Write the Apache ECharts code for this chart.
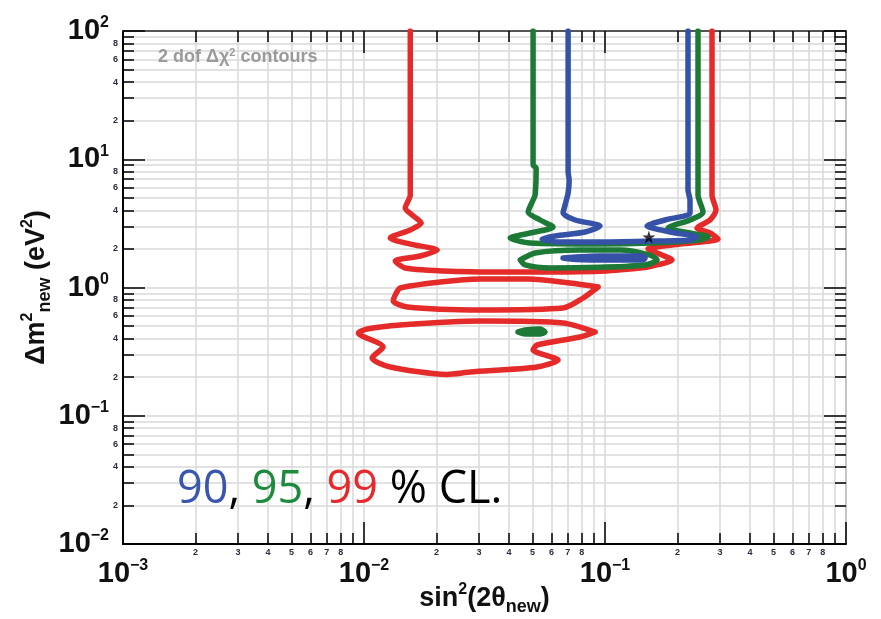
<!DOCTYPE html>
<html>
<head>
<meta charset="utf-8">
<script src="https://cdn.jsdelivr.net/npm/echarts@6/dist/echarts.min.js"></script>
<style>
  html, body { margin: 0; padding: 0; background: #fff; }
  #chart { width: 881px; height: 619px; }
</style>
</head>
<body>
<div id="chart"></div>
<script>
// Exclusion contours in the (sin^2(2θ_new), Δm^2_new) plane, points as [x, y]
const blue90 = [
  [0.0703, 100], [0.0703, 7.95], [0.0710, 6.89], [0.0703, 5.45], [0.0683, 4.40], [0.0670, 3.81],
  [0.0752, 3.36], [0.0954, 3.02], [0.0827, 2.71], [0.0621, 2.52], [0.0548, 2.39], [0.0651, 2.26],
  [0.0954, 2.26], [0.1538, 2.30], [0.2253, 2.35], [0.2408, 2.48], [0.1862, 2.71], [0.1494, 3.02],
  [0.1775, 3.36], [0.2253, 3.81], [0.2253, 4.81], [0.2210, 5.76], [0.2210, 100]
];
const blue90Island = [
  [0.0670, 1.70], [0.0954, 1.76], [0.1439, 1.76], [0.1467, 1.70], [0.1439, 1.64],
  [0.0954, 1.64], [0.0670, 1.67], [0.0670, 1.70]
];
const green95 = [
  [0.0503, 100], [0.0503, 9.02], [0.0518, 8.55], [0.0513, 5.26], [0.0503, 4.81], [0.0480, 3.88],
  [0.0538, 3.36], [0.0609, 2.96], [0.0489, 2.66], [0.0404, 2.43], [0.0489, 2.22], [0.0954, 2.18],
  [0.1538, 2.22], [0.2479, 2.35], [0.2676, 2.48], [0.2253, 2.66], [0.1826, 2.91], [0.2253, 3.36],
  [0.2551, 3.88], [0.2432, 5.26], [0.2432, 100]
];
const green95Island = [
  [0.0445, 1.64], [0.0513, 1.86], [0.0788, 1.96], [0.1155, 1.96], [0.1538, 1.79], [0.1644, 1.64],
  [0.1467, 1.50], [0.0954, 1.44], [0.0592, 1.42], [0.0466, 1.50], [0.0445, 1.64]
];
const green95Spot = [
  [0.0436, 0.450], [0.0466, 0.466], [0.0538, 0.475], [0.0564, 0.450], [0.0538, 0.434],
  [0.0466, 0.434], [0.0436, 0.450]
];
const red99 = [
  [0.01556, 100], [0.01556, 5.26], [0.01483, 4.17], [0.01586, 3.67], [0.01728, 3.18], [0.01556, 2.81],
  [0.01285, 2.43], [0.01556, 2.18], [0.02013, 1.96], [0.01711, 1.76], [0.01348, 1.61], [0.01483, 1.42],
  [0.02279, 1.34], [0.04446, 1.32], [0.0954, 1.34], [0.1398, 1.42], [0.1567, 1.47], [0.1897, 1.64],
  [0.1692, 1.82], [0.1509, 2.00], [0.2048, 2.18], [0.2944, 2.39], [0.2727, 2.66], [0.2408, 2.91],
  [0.2727, 3.36], [0.2888, 4.02], [0.2780, 5.26], [0.2780, 100]
];
const red99IslandMid = [
  [0.0936, 1.009], [0.0717, 1.084], [0.0480, 1.165], [0.0304, 1.165], [0.0207, 1.104], [0.01414, 0.991],
  [0.01348, 0.874], [0.01323, 0.785], [0.01512, 0.705], [0.0304, 0.668], [0.0670, 0.692],
  [0.0811, 0.828], [0.0936, 1.009]
];
const red99IslandLow = [
  [0.0910, 0.450], [0.0788, 0.411], [0.0523, 0.356], [0.0503, 0.326], [0.0639, 0.272], [0.0523, 0.240],
  [0.0276, 0.219], [0.0221, 0.210], [0.01285, 0.240], [0.0108, 0.282], [0.0120, 0.344], [0.00947, 0.442],
  [0.01032, 0.475], [0.01414, 0.510], [0.0304, 0.548], [0.0670, 0.529], [0.0910, 0.450]
];
const bestFit = [[0.152, 2.48]];

// Axis tick values
const xMajor = [0.001, 0.01, 0.1, 1];
const xMinor = [0.002, 0.003, 0.004, 0.005, 0.006, 0.007, 0.008, 0.009,
                0.02, 0.03, 0.04, 0.05, 0.06, 0.07, 0.08, 0.09,
                0.2, 0.3, 0.4, 0.5, 0.6, 0.7, 0.8, 0.9];
const xMinorLabeled = [0.002, 0.003, 0.004, 0.005, 0.006, 0.007, 0.008,
                       0.02, 0.03, 0.04, 0.05, 0.06, 0.07, 0.08,
                       0.2, 0.3, 0.4, 0.5, 0.6, 0.7, 0.8];
const yMajor = [0.01, 0.1, 1, 10, 100];
const yMinor = [0.02, 0.03, 0.04, 0.05, 0.06, 0.07, 0.08, 0.09,
                0.2, 0.3, 0.4, 0.5, 0.6, 0.7, 0.8, 0.9,
                2, 3, 4, 5, 6, 7, 8, 9,
                20, 30, 40, 50, 60, 70, 80, 90];
const yMinorLabeled = [0.02, 0.04, 0.06, 0.08, 0.2, 0.4, 0.6, 0.8, 2, 4, 6, 8, 20, 40, 60, 80];

const BLUE = '#3652a8';
const GREEN = '#1c7a36';
const RED = '#e52a2a';
const FONT = '"Liberation Sans", Arial, sans-serif';
const GRID_COLOR = '#d9d9d9';

function powLabel(v) {
  const e = Math.round(Math.log10(v));
  return '{b|10}{s|' + (e < 0 ? '\u2212' + (-e) : String(e)) + '}';
}
function digitLabel(v) {
  const p = Math.pow(10, Math.floor(Math.log10(v) + 1e-9));
  return String(Math.round(v / p));
}
const powRich = {
  b: { fontFamily: FONT, fontWeight: 'bold', fontSize: 29, color: '#111', lineHeight: 32 },
  s: { fontFamily: FONT, fontWeight: 'bold', fontSize: 16, color: '#111', verticalAlign: 'top', lineHeight: 16 }
};
const minorLabelStyle = { fontFamily: FONT, fontWeight: 'bold', fontSize: 9, color: '#2b2b45' };
const titleRich = {
  t: { fontFamily: FONT, fontWeight: 'bold', fontSize: 27, color: '#111', lineHeight: 34 },
  sp: { fontFamily: FONT, fontWeight: 'bold', fontSize: 16, color: '#111', verticalAlign: 'top', lineHeight: 16 },
  sb: { fontFamily: FONT, fontWeight: 'bold', fontSize: 18, color: '#111', verticalAlign: 'bottom', lineHeight: 18 }
};

function logAxis(pos, isX, major, opts) {
  const range = isX ? { min: 0.001, max: 1 } : { min: 0.01, max: 100 };
  return Object.assign({
    type: 'log', logBase: 10, position: pos, gridIndex: 0,
    min: range.min, max: range.max,
    axisLine: { show: false, onZero: false },
    axisTick: { show: true, inside: true, length: major ? 22 : 11,
                customValues: major ? (isX ? xMajor : yMajor) : (isX ? xMinor : yMinor),
                lineStyle: { color: '#000', width: 1.5 } },
    axisLabel: { show: false },
    splitLine: { show: false },
    axisPointer: { show: false }
  }, opts || {});
}

const chart = echarts.init(document.getElementById('chart'), null, { renderer: 'canvas' });

function contour(data, color, z) {
  return {
    type: 'line', data: data, xAxisIndex: 0, yAxisIndex: 0,
    symbol: 'none', showSymbol: false, smooth: 0.25, silent: true, z: z,
    lineStyle: { color: color, width: 5.5, cap: 'round', join: 'round' }
  };
}

chart.setOption({
  animation: false,
  backgroundColor: '#fff',
  grid: { left: 123, right: 35, top: 31, bottom: 75, containLabel: false, outerBoundsMode: 'none' },
  xAxis: [
    logAxis('bottom', true, true, {
      axisLine: { show: true, onZero: false, lineStyle: { color: '#000', width: 2 } },
      axisLabel: { show: true, customValues: xMajor, formatter: powLabel, rich: powRich, margin: 14, interval: 0 },
      splitLine: { show: true, lineStyle: { color: GRID_COLOR, width: 1.5 } },
      name: '{t|sin}{sp|2}{t|(2θ}{sb|new}{t|)}',
      nameLocation: 'middle', nameGap: 38, nameMoveOverlap: false,
      nameTextStyle: { rich: titleRich }
    }),
    logAxis('bottom', true, false, {
      axisLabel: Object.assign({ show: true, customValues: xMinorLabeled, formatter: digitLabel, margin: 4, interval: 0 }, minorLabelStyle),
      splitLine: { show: true, lineStyle: { color: GRID_COLOR, width: 1.5 } }
    }),
    logAxis('top', true, true, {
      axisLine: { show: true, onZero: false, lineStyle: { color: '#555', width: 2 } }
    }),
    logAxis('top', true, false)
  ],
  yAxis: [
    logAxis('left', false, true, {
      axisLine: { show: true, onZero: false, lineStyle: { color: '#000', width: 2 } },
      axisLabel: { show: true, customValues: yMajor, formatter: powLabel, rich: powRich, margin: 14, interval: 0 },
      splitLine: { show: true, lineStyle: { color: GRID_COLOR, width: 1.5 } },
      name: '{t|Δm}{sp|2}{sb|new}{t| (eV}{sp|2}{t|)}',
      nameLocation: 'middle', nameGap: 69, nameRotate: 90, nameMoveOverlap: false,
      nameTextStyle: { rich: titleRich }
    }),
    logAxis('left', false, false, {
      axisLabel: Object.assign({ show: true, customValues: yMinorLabeled, formatter: digitLabel, margin: 5, interval: 0 }, minorLabelStyle),
      splitLine: { show: true, lineStyle: { color: GRID_COLOR, width: 1.5 } }
    }),
    logAxis('right', false, true, {
      axisLine: { show: true, onZero: false, lineStyle: { color: '#bbb', width: 1.5 } }
    }),
    logAxis('right', false, false)
  ],
  series: [
    contour(red99, RED, 2),
    contour(red99IslandMid, RED, 2),
    contour(red99IslandLow, RED, 2),
    contour(green95, GREEN, 3),
    contour(green95Island, GREEN, 3),
    contour(green95Spot, GREEN, 3),
    contour(blue90, BLUE, 4),
    contour(blue90Island, BLUE, 4),
    {
      type: 'scatter', data: bestFit, xAxisIndex: 0, yAxisIndex: 0, silent: true, z: 6,
      symbol: 'path://M50,0 L61,35 L98,35 L68,57 L79,91 L50,70 L21,91 L32,57 L2,35 L39,35 Z',
      symbolSize: 13, itemStyle: { color: '#000' }
    }
  ],
  graphic: [
    {
      type: 'text', left: 158, top: 47, z: 10,
      style: {
        text: '{t|2 dof Δχ}{s|2}{t| contours}',
        rich: {
          t: { fontFamily: FONT, fontWeight: 'bold', fontSize: 18, fill: '#9a9a9a', lineHeight: 21 },
          s: { fontFamily: FONT, fontWeight: 'bold', fontSize: 11, fill: '#9a9a9a', verticalAlign: 'top', lineHeight: 11 }
        }
      }
    },
    {
      type: 'text', left: 177, top: 468, z: 10,
      style: {
        text: '{b|90}{k|, }{g|95}{k|, }{r|99}{k| % CL.}',
        rich: {
          b: { fontFamily: '"Open Sans", sans-serif', fontSize: 45, fill: '#3a55ae' },
          g: { fontFamily: '"Open Sans", sans-serif', fontSize: 45, fill: '#1e8a3c' },
          r: { fontFamily: '"Open Sans", sans-serif', fontSize: 45, fill: '#e8282a' },
          k: { fontFamily: '"Open Sans", sans-serif', fontSize: 45, fill: '#000' }
        }
      }
    }
  ]
});
</script>
</body>
</html>
